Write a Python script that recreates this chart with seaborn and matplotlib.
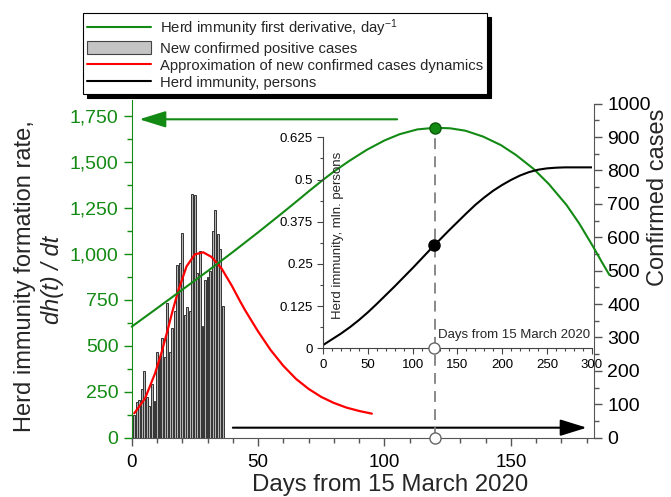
import numpy as np
import pandas as pd
import seaborn as sns
import matplotlib.pyplot as plt
from matplotlib.lines import Line2D
from matplotlib.patches import Patch
from matplotlib.ticker import MultipleLocator, FuncFormatter

# new confirmed cases per day (right axis)
case_days = list(range(1, 37))
new_cases = [68, 108, 113, 145, 200, 123, 95, 161, 111, 257, 239, 298, 241, 403, 256, 328,
             380, 518, 523, 612, 368, 391, 378, 731, 728, 493, 560, 334, 471, 480, 500, 620,
             683, 611, 566, 393]

# approximation of new confirmed cases (right axis)
approx_days = [1, 5.3, 9.2, 11.8, 14.2, 16, 18.4, 21.7, 25, 28.3, 31.6, 35.6, 39.6, 42.9,
               44.9, 50, 55, 60, 65, 70, 75, 80, 85, 90, 95]
approx_cases = [73, 118, 192, 255, 322, 375, 440, 513, 549, 555, 541, 506, 455, 408,
                381, 318, 262, 215, 176, 146, 122, 104, 90, 80, 72]

# herd immunity first derivative (left axis)
deriv_days = [0, 10, 20, 30, 40, 50, 60, 66.5, 70, 76, 80, 86, 93, 100, 106, 113, 120,
              126, 132, 139, 146, 152, 159, 165, 172, 177, 182.5, 186, 189]
deriv_rate = [604, 704, 805, 906, 1010, 1117, 1227, 1300, 1340, 1406, 1448, 1505, 1566,
              1617, 1651, 1677, 1686, 1683, 1670, 1638, 1592, 1538, 1462, 1380, 1266,
              1166, 1040, 955, 885]

# herd immunity, mln persons (inset)
herd_days = [0, 10, 20, 30, 40, 50, 60, 70, 80, 90, 100, 110, 120, 130, 140, 150, 160,
             170, 180, 190, 200, 210, 220, 230, 240, 250, 260, 270, 280, 300]
herd_mln = [0.010, 0.027, 0.044, 0.063, 0.084, 0.107, 0.132, 0.158, 0.184, 0.211, 0.238,
            0.266, 0.294, 0.321, 0.348, 0.374, 0.400, 0.425, 0.447, 0.467, 0.484, 0.499,
            0.512, 0.522, 0.529, 0.533, 0.535, 0.536, 0.536, 0.536]

peak_day, peak_rate = 120, 1686
inset_peak_day, inset_peak_herd = 124, 0.305

labels = ['Herd immunity first derivative, day$^{-1}$', 'New confirmed positive cases',
          'Approximation of new confirmed cases dynamics', 'Herd immunity, persons']

GREEN = '#138a13'
GREY = '#555555'


def main():
    sns.set_style('ticks')
    plt.rcParams['font.family'] = ['Liberation Sans', 'DejaVu Sans']
    plt.rcParams['mathtext.fontset'] = 'custom'
    plt.rcParams['mathtext.rm'] = 'Liberation Sans'
    plt.rcParams['mathtext.it'] = 'Liberation Sans:italic'

    fig = plt.figure(figsize=(6.71, 4.97), dpi=100)
    ax = fig.add_axes([0.1963, 0.1193, 0.6894, 0.6795])
    ax_r = ax.twinx()
    ax.set_zorder(ax_r.get_zorder() + 1)
    ax.patch.set_visible(False)

    bars = pd.DataFrame({'day': case_days, 'cases': new_cases})
    sns.barplot(data=bars, x='day', y='cases', native_scale=True, width=0.75, errorbar=None,
                color='#b5b5b5', saturation=1, edgecolor='#333333', linewidth=0.7, ax=ax_r)
    sns.lineplot(x=approx_days, y=approx_cases, color='red', lw=1.6, ax=ax_r)
    ax_r.annotate('', xy=(180, 30), xytext=(40, 30),
                  arrowprops=dict(arrowstyle='-|>,head_length=0.9,head_width=0.28', color='black',
                                  lw=1.5, mutation_scale=18, shrinkA=0, shrinkB=0))

    sns.lineplot(x=deriv_days, y=deriv_rate, color=GREEN, lw=1.5, ax=ax)
    ax.lines[-1].set_clip_on(False)
    ax.plot([peak_day, peak_day], [0, peak_rate], color='#808080', lw=1.3, dashes=(6, 4))
    ax.plot(peak_day, peak_rate, 'o', color=GREEN, mec='#0c5c0c', ms=8)
    ax.plot(peak_day, 0, 'o', mfc='white', mec='#666666', ms=8, clip_on=False, zorder=6)
    ax.annotate('', xy=(3, 1732), xytext=(105, 1732),
                arrowprops=dict(arrowstyle='-|>,head_length=0.9,head_width=0.28', color=GREEN,
                                lw=1.5, mutation_scale=18, shrinkA=0, shrinkB=0))

    ax.set_xlim(0, 183)
    ax.set_ylim(0, 1837)
    ax_r.set_ylim(0, 1011)
    ax_r.spines['right'].set_bounds(0, 1000)
    ax.xaxis.set_major_locator(MultipleLocator(50))
    ax.xaxis.set_minor_locator(MultipleLocator(10))
    ax.yaxis.set_major_locator(MultipleLocator(250))
    ax.yaxis.set_minor_locator(MultipleLocator(125))
    ax.yaxis.set_major_formatter(FuncFormatter(lambda v, _: f'{v:,.0f}'))
    ax_r.yaxis.set_major_locator(MultipleLocator(100))
    ax_r.yaxis.set_minor_locator(MultipleLocator(50))

    for a in (ax, ax_r):
        a.set_xlabel('')
        a.set_ylabel('')
        a.spines['top'].set_visible(False)
    ax.spines['right'].set_visible(False)
    ax_r.spines['left'].set_visible(False)
    ax_r.spines['bottom'].set_visible(False)
    ax.spines['left'].set_color(GREEN)
    ax.spines['bottom'].set_color(GREY)
    ax_r.spines['right'].set_color(GREY)

    ax.tick_params(axis='y', which='both', colors=GREEN, labelsize=14)
    ax.tick_params(axis='x', which='both', colors=GREY, labelcolor='black', labelsize=13.5, pad=5.5)
    ax_r.tick_params(axis='y', which='both', colors=GREY, labelcolor='black', labelsize=14)
    for a in (ax, ax_r):
        a.tick_params(which='major', length=6, width=1, direction='out')
        a.tick_params(which='minor', length=3.5, width=1, direction='out')

    fig.text(25 / 671, 1 - 276 / 497, 'Herd immunity formation rate,', rotation=90,
             fontsize=17, ha='center', va='center')
    fig.text(53 / 671, 1 - 280 / 497, 'dh(t) / dt', rotation=90, fontsize=17,
             fontstyle='italic', ha='center', va='center')
    fig.text(658 / 671, 1 - 197 / 497, 'Confirmed cases', rotation=90, fontsize=17,
             ha='center', va='center')
    fig.text(390.5 / 671, 1 - 485 / 497, 'Days from 15 March 2020', fontsize=17.3,
             ha='center', va='center')

    # inset: herd immunity
    ax_in = fig.add_axes([0.4818, 0.2992, 0.4, 0.4245])
    ax_in.set_zorder(ax.get_zorder() + 1)
    ax_in.patch.set_visible(False)
    sns.lineplot(x=herd_days, y=herd_mln, color='black', lw=1.5, ax=ax_in)
    ax_in.plot(inset_peak_day, inset_peak_herd, 'o', color='black', ms=8)
    ax_in.plot(inset_peak_day, 0, 'o', mfc='white', mec='#666666', ms=8, clip_on=False, zorder=6)
    ax_in.set_xlim(0, 300)
    ax_in.set_ylim(0, 0.625)
    ax_in.xaxis.set_major_locator(MultipleLocator(50))
    ax_in.xaxis.set_minor_locator(MultipleLocator(10))
    ax_in.yaxis.set_major_locator(MultipleLocator(0.125))
    ax_in.yaxis.set_minor_locator(MultipleLocator(0.0625))
    ax_in.yaxis.set_major_formatter(FuncFormatter(lambda v, _: f'{v:g}'))
    ax_in.spines['top'].set_visible(False)
    ax_in.spines['right'].set_visible(False)
    ax_in.spines['left'].set_color('#444444')
    ax_in.spines['bottom'].set_color('#444444')
    ax_in.tick_params(which='both', colors='#444444', labelcolor='black', labelsize=9.5)
    ax_in.tick_params(which='major', length=4, width=0.8)
    ax_in.tick_params(which='minor', length=2, width=0.8)
    ax_in.set_xlabel('')
    ax_in.set_ylabel('')
    ax_in.text(0.994, 0.063, 'Days from 15 March 2020', transform=ax_in.transAxes,
               fontsize=9.5, ha='right', va='center')
    ax_in.text(0.056, 0.537, 'Herd immunity, mln. persons', transform=ax_in.transAxes,
               fontsize=9.5, rotation=90, ha='center', va='center')

    handles = [Line2D([], [], color=GREEN, lw=1.5),
               Patch(facecolor='#c4c4c4', edgecolor='#444444', lw=0.8),
               Line2D([], [], color='red', lw=1.5),
               Line2D([], [], color='black', lw=1.5)]
    leg = fig.legend(handles, labels, loc='upper left', bbox_to_anchor=(83 / 671, 1 - 12.7 / 497),
                     frameon=True, fancybox=False, edgecolor='black', framealpha=1, fontsize=10.7,
                     handlelength=4.3, handleheight=1.0, labelspacing=0.15, borderpad=0.3,
                     handletextpad=0.55, borderaxespad=0,
                     shadow={'color': 'black', 'alpha': 1, 'ox': 3, 'oy': -3})
    leg.get_frame().set_linewidth(0.8)

    fig.savefig('out.png', dpi=100)


if __name__ == '__main__':
    main()
